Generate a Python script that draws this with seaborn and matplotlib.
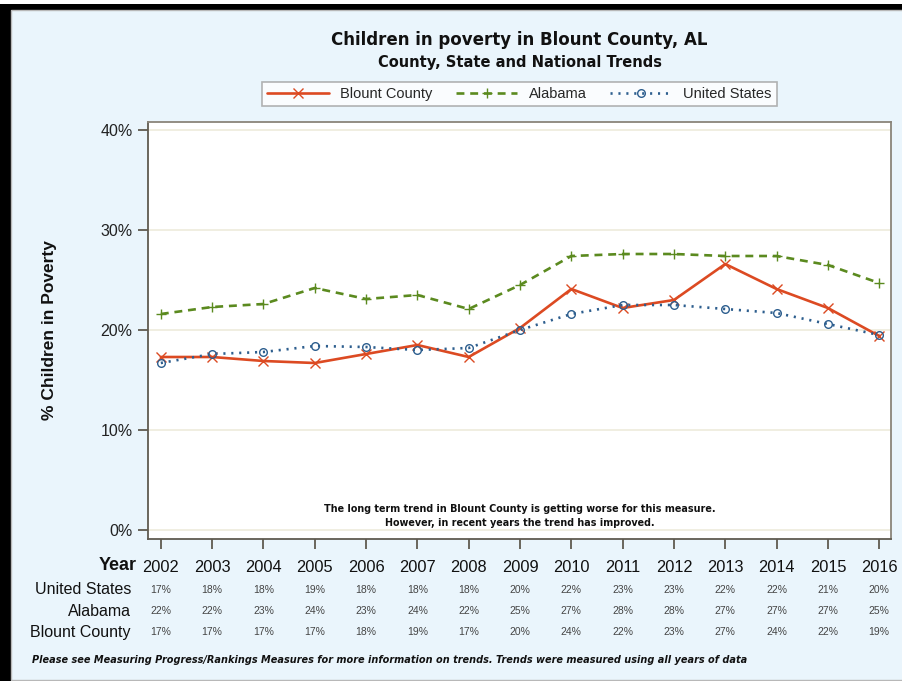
import matplotlib
matplotlib.use("Agg")
import matplotlib.pyplot as plt
import matplotlib.patches as mpatches
import matplotlib.transforms as mtrans
from matplotlib.lines import Line2D
from matplotlib.ticker import FuncFormatter
import seaborn as sns
import pandas as pd

years = [2002, 2003, 2004, 2005, 2006, 2007, 2008, 2009, 2010, 2011, 2012, 2013, 2014, 2015, 2016]
blount = [17.3, 17.3, 16.9, 16.7, 17.6, 18.5, 17.3, 20.2, 24.1, 22.2, 23.0, 26.6, 24.1, 22.2, 19.4]
alabama = [21.6, 22.3, 22.6, 24.2, 23.1, 23.5, 22.1, 24.5, 27.4, 27.6, 27.6, 27.4, 27.4, 26.5, 24.7]
us = [16.7, 17.6, 17.8, 18.4, 18.3, 18.0, 18.2, 20.0, 21.6, 22.5, 22.5, 22.1, 21.7, 20.6, 19.5]

table_us = ["17%", "18%", "18%", "19%", "18%", "18%", "18%", "20%", "22%", "23%", "23%", "22%", "22%", "21%", "20%"]
table_al = ["22%", "22%", "23%", "24%", "23%", "24%", "22%", "25%", "27%", "28%", "28%", "27%", "27%", "27%", "25%"]
table_bc = ["17%", "17%", "17%", "17%", "18%", "19%", "17%", "20%", "24%", "22%", "23%", "27%", "24%", "22%", "19%"]

series_names = ["Blount County", "Alabama", "United States"]
yticks = [0, 10, 20, 30, 40]

data = {"Blount County": blount, "Alabama": alabama, "United States": us}

sns.set_style("white")
plt.rcParams["font.family"] = ["Liberation Sans", "DejaVu Sans"]
WIDE = ["DejaVu Sans"]

W, H = 902, 681
bg = "#EAF5FC"
fig = plt.figure(figsize=(W / 100, H / 100), dpi=100, facecolor=bg)

# frame decorations
fig.patches.append(mpatches.Rectangle((0, 0), 11 / W, 1 - 4 / H, transform=fig.transFigure,
                                      facecolor="black", edgecolor="none", zorder=0))
fig.patches.append(mpatches.Rectangle((0, 1 - 10 / H), 1, 6 / H, transform=fig.transFigure,
                                      facecolor="black", edgecolor="none", zorder=0))
fig.patches.append(mpatches.Rectangle((0, 1 - 4 / H), 1, 4 / H, transform=fig.transFigure,
                                      facecolor="white", edgecolor="none", zorder=0))
fig.patches.append(mpatches.Rectangle((11 / W, 1 / H), 1, 1 - 11 / H, transform=fig.transFigure,
                                      facecolor="none", edgecolor="#B8B8B8", lw=1, zorder=0))

ax = fig.add_axes([148 / W, 1 - 539 / H, (891 - 148) / W, (539 - 122) / H])
ax.set_facecolor("white")

colors = {"Blount County": "#DC4A22", "Alabama": "#5B8A1F", "United States": "#2D5E8E"}
linestyles = {"Blount County": "-", "Alabama": (0, (3, 2.2)), "United States": (0, (0.8, 2.2))}
markers = {"Blount County": "x", "Alabama": "+", "United States": "o"}
msizes = {"Blount County": 6.5, "Alabama": 7, "United States": 5.5}

for name in series_names:
    d = pd.DataFrame({"Year": years, "Value": data[name]})
    sns.lineplot(data=d, x="Year", y="Value", ax=ax, color=colors[name], linewidth=1.9,
                 linestyle=linestyles[name], marker=markers[name], markersize=msizes[name],
                 markerfacecolor="none", markeredgecolor=colors[name], markeredgewidth=1.0,
                 legend=False)

ax.set_xlim(2001.75, 2016.23)
ax.set_ylim(-0.9, 40.8)
ax.set_yticks(yticks)
ax.yaxis.set_major_formatter(FuncFormatter(lambda v, p: f"{v:.0f}%"))
ax.set_xticks(years)
ax.set_xticklabels([str(y) for y in years])
for yv in yticks:
    ax.axhline(yv, color="#EDEBDC", lw=1.2, zorder=0)

spine_c = "#5F5A50"
for s in ax.spines.values():
    s.set_color(spine_c)
    s.set_linewidth(1.3)
ax.spines["top"].set_color("#8A857A")
ax.spines["right"].set_color("#8A857A")
ax.tick_params(axis="both", which="major", direction="out", length=7, width=1.3,
               color=spine_c, left=True, bottom=True)
ax.tick_params(axis="y", labelsize=11.5, labelcolor="#222222", pad=4)
ax.tick_params(axis="x", labelsize=11.8, labelcolor="#111111", pad=8)
ax.set_xlabel("")
ax.set_ylabel("% Children in Poverty", fontsize=12.5, fontweight="bold", labelpad=31, color="#111111")

# titles
cx = (148 + 891) / 2 / W
fig.text(cx, 1 - 40 / H, "Children in poverty in Blount County, AL", ha="center", va="center",
         fontsize=12, fontweight="bold", color="#111111", family=WIDE)
fig.text(cx, 1 - 62 / H, "County, State and National Trends", ha="center", va="center",
         fontsize=10.5, fontweight="bold", color="#111111", family=WIDE)

# legend
handles = []
for name in series_names:
    handles.append(Line2D([], [], color=colors[name], lw=1.9, linestyle=linestyles[name], marker=markers[name],
                          markerfacecolor="none", markersize=msizes[name], markeredgewidth=1.0))
leg = fig.legend(handles, series_names, loc="center", bbox_to_anchor=(cx, 1 - 94 / H), ncol=3,
                 fontsize=10.5, frameon=True, fancybox=False, edgecolor="#A0A0A0",
                 handlelength=4.2, columnspacing=1.6, handletextpad=0.8, borderpad=0.35)
leg.get_frame().set_linewidth(1.2)
leg.get_frame().set_facecolor("white")

# trend note
ax.text(0.5, (539 - 509) / 417, "The long term trend in Blount County is getting worse for this measure.",
        transform=ax.transAxes, ha="center", va="center", fontsize=6.9, fontweight="bold",
        color="#111111", family=WIDE)
ax.text(0.5, (539 - 523) / 417, "However, in recent years the trend has improved.",
        transform=ax.transAxes, ha="center", va="center", fontsize=6.9, fontweight="bold",
        color="#111111", family=WIDE)

# data table below the axis
trans = mtrans.blended_transform_factory(ax.transData, fig.transFigure)
fig.text(137 / W, 1 - 565 / H, "Year", ha="right", va="center", fontsize=13, fontweight="bold", color="#111111")
rows = [("United States", table_us, 590), ("Alabama", table_al, 611), ("Blount County", table_bc, 632)]
for label, vals, ypx in rows:
    fig.text(131 / W, 1 - ypx / H, label, ha="right", va="center", fontsize=11.5, color="#111111")
    for yr, v in zip(years, vals):
        ax.text(yr, 1 - ypx / H, v, transform=trans, ha="center", va="center",
                fontsize=7.5, color="#444444")

fig.text(32 / W, 1 - 660 / H,
         "Please see Measuring Progress/Rankings Measures for more information on trends. Trends were measured using all years of data",
         ha="left", va="center", fontsize=7.0, fontweight="bold", fontstyle="italic", color="#111111",
         family=WIDE)

fig.savefig("out.png", dpi=100, facecolor=bg)
